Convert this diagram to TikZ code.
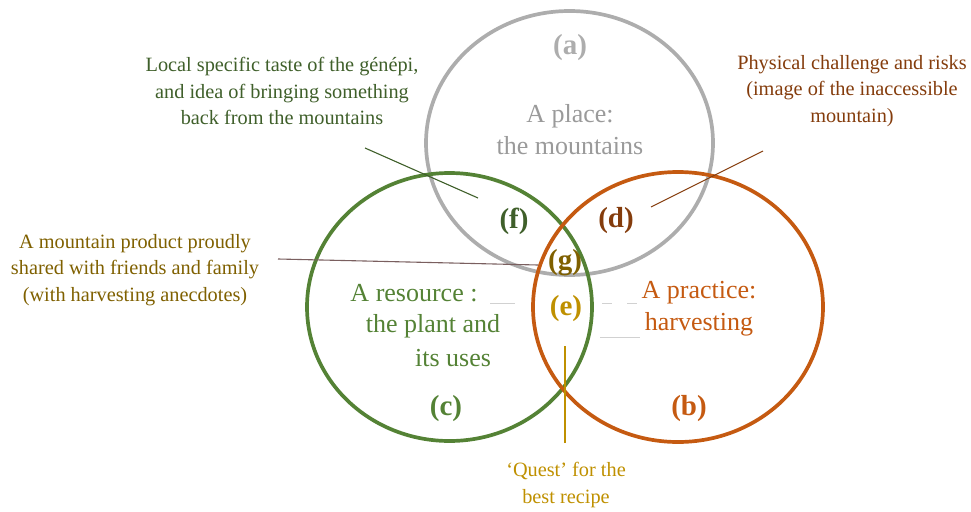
\documentclass[tikz,border=0pt]{standalone}
\usepackage{fontspec}
\setmainfont{Liberation Serif}
\usetikzlibrary{shapes.geometric}

\definecolor{placegrey}{HTML}{ADADAD}
\definecolor{placetext}{HTML}{9A9A9A}
\definecolor{resgreen}{HTML}{548235}
\definecolor{pracorange}{HTML}{C55A11}
\definecolor{tastegreen}{HTML}{3F5F2A}
\definecolor{riskbrown}{HTML}{843C0C}
\definecolor{shareolive}{HTML}{7F6000}
\definecolor{questgold}{HTML}{BF9000}
\definecolor{sharelink}{HTML}{7A5F5F}

\tikzstyle{ring} = [ellipse,inner sep=0pt,line width=3.7pt]
\tikzstyle{letter} = [font=\fontsize{29}{32}\selectfont\bfseries]
\tikzstyle{theme} = [font=\fontsize{26}{32}\selectfont,align=center]
\tikzstyle{note} = [font=\fontsize{20.3}{26.5}\selectfont,align=center]
\tikzstyle{leader} = [draw,line width=1.1pt]
\tikzstyle{faint} = [draw,line width=0.8pt,black!18]

\begin{document}
\begin{tikzpicture}[x=1pt,y=-1pt]
     \useasboundingbox (0,0) rectangle (971,511);
     % The three circles
     \node[ring,draw=placegrey,minimum width=287pt,minimum height=264pt] (place) at (569.5,143) {};
     \node[ring,draw=resgreen,minimum width=285pt,minimum height=268pt] (resource) at (449.5,307) {};
     \node[ring,draw=pracorange,minimum width=290pt,minimum height=270pt] (practice) at (678,307) {};

     % Letters of the zones
     \foreach \pos/\name/\col in {{(570,48)/a/placegrey}, {(689,409)/b/pracorange},
       {(446,409)/c/resgreen}, {(616,221)/d/riskbrown}, {(566,309)/e/questgold},
       {(514,221)/f/tastegreen}, {(565,263)/g/shareolive}}
     \node[letter,text=\col] (\name) at \pos {(\name)};

     % Names of the circles
     \node[theme,text=placetext] (placename) at (570,130) {A place:\\the mountains};
     \node[theme,text=resgreen] (res1) at (414,293) {A resource :};
     \node[theme,text=resgreen] (res2) at (433,326) {the plant and};
     \node[theme,text=resgreen] (res3) at (453,358) {its uses};
     \node[theme,text=pracorange] (prac) at (699,309) {A practice:\\harvesting};

     % Notes round the diagram
     \node[note,text=tastegreen] (taste) at (282,91)
       {Local specific taste of the génépi,\\and idea of bringing something\\back from the mountains};
     \node[note,text=riskbrown] (risk) at (852,91)
       {Physical challenge and risks\\(image of the inaccessible\\mountain)};
     \node[note,text=shareolive] (share) at (135,270)
       {A mountain product proudly\\shared with friends and family\\(with harvesting anecdotes)};
     \node[note,text=questgold] (quest) at (566,485) {`Quest' for the\\best recipe};

     % Leader lines
     \coordinate (taste start) at (365,148);
     \coordinate (taste end) at (478,198);
     \coordinate (risk start) at (763,151);
     \coordinate (risk end) at (651,207);
     \coordinate (share start) at (278,259);
     \coordinate (share end) at (538,265);
     \coordinate (quest start) at (565,443);
     \coordinate (quest end) at (565,346);
     \path[leader,tastegreen] (taste start) -- (taste end);
     \path[leader,riskbrown] (risk start) -- (risk end);
     \path[leader,sharelink] (share start) -- (share end);
     \path[leader,questgold] (quest start) -- (quest end);

     % faint strokes beside the names
     \foreach \from/\to in {{(490,303)/(515,303)}, {(602,303)/(612,303)},
       {(627,303)/(637,303)}, {(600,337)/(640,337)}}
     \path[faint] \from -- \to;
\end{tikzpicture}
\end{document}
